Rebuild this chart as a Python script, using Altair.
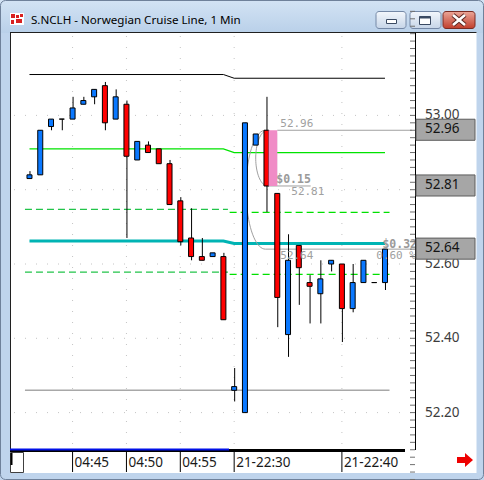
import altair as alt
import numpy as np
import pandas as pd

# ---- NCLH 1-minute bars: pre-market session and evening session ----
times = ["04:41", "04:42", "04:43", "04:44", "04:45", "04:46", "04:47", "04:48", "04:49", "04:50",
         "04:51", "04:52", "04:53", "04:54", "04:55", "04:56", "04:57", "04:58", "04:59",
         "22:30", "22:31", "22:32", "22:33", "22:34", "22:35", "22:36", "22:37", "22:38", "22:39",
         "22:40", "22:41", "22:42", "22:43", "22:44"]
opens = [52.83, 52.84, 52.97, 52.99, 52.99, 53.03, 53.05, 53.08, 52.99, 53.03,
         52.88, 52.92, 52.91, 52.87, 52.77, 52.67, 52.62, 52.62, 52.62,
         52.26, 52.20, 52.92, 52.96, 52.79, 52.41, 52.65, 52.55, 52.52, 52.60,
         52.60, 52.48, 52.55, 52.55, 52.55]
highs = [52.85, 52.96, 52.99, 52.99, 53.05, 53.05, 53.07, 53.09, 53.07, 53.04,
         52.93, 52.93, 52.91, 52.88, 52.78, 52.75, 52.67, 52.63, 52.63,
         52.32, 52.98, 52.95, 53.05, 52.79, 52.68, 52.65, 52.57, 52.61, 52.61,
         52.60, 52.60, 52.61, 52.55, 52.64]
lows = [52.83, 52.84, 52.96, 52.96, 52.99, 53.03, 53.03, 52.96, 52.99, 52.67,
        52.88, 52.90, 52.87, 52.76, 52.65, 52.61, 52.61, 52.62, 52.45,
        52.23, 52.20, 52.92, 52.74, 52.43, 52.35, 52.49, 52.44, 52.44, 52.58,
        52.39, 52.47, 52.55, 52.55, 52.53]
closes = [52.84, 52.96, 52.99, 52.99, 53.02, 53.04, 53.07, 52.98, 53.05, 52.89,
          52.93, 52.90, 52.87, 52.76, 52.66, 52.62, 52.61, 52.63, 52.45,
          52.27, 52.98, 52.95, 52.81, 52.51, 52.61, 52.59, 52.54, 52.56, 52.61,
          52.48, 52.55, 52.61, 52.55, 52.64]

# time axis
tick_times = ["04:45", "04:50", "04:55", "22:30", "22:40"]
tick_labels = ["04:45", "04:50", "04:55", "21-22:30", "21-22:40"]

# indicator levels per session (pre-market, evening)
upper_level = [53.11, 53.10]
green_level = [52.91, 52.90]
teal_level = [52.662, 52.655]
dash_hi_level = [52.747, 52.739]
dash_lo_level = [52.578, 52.572]
low_ref_level = 52.26

# measured move on the 22:33 bar
move_bar = "22:33"
move_high = 52.96
move_low = 52.81
last_price = 52.64

# price axis
price_labels = [53.00, 52.80, 52.60, 52.40, 52.20]
price_flags = [move_high, move_low, last_price]

# ---- scales ----
W, H = 484, 480
X0_PX, STEP_PX = 25, 11
x_scale = alt.Scale(domain=[-X0_PX / STEP_PX, (W - X0_PX) / STEP_PX], nice=False, zero=False)
y_scale = alt.Scale(domain=[52.0186, 53.3106], nice=False, zero=False)

BLUE, RED = "#0a78ff", "#ff0000"
GRAY_TXT = "#a0a0a0"
UI_FONT = "Noto Sans"
MONO = "DejaVu Sans Mono"


def xq(f):
    return alt.X(f"{f}:Q", scale=x_scale, axis=None)


def yq(f):
    return alt.Y(f"{f}:Q", scale=y_scale, axis=None)


one = pd.DataFrame({"k": [0]})


def px_rect(x, x2, y, y2, **mark):
    return alt.Chart(one).mark_rect(**mark).encode(
        x=alt.value(x), x2=alt.value(x2), y=alt.value(y), y2=alt.value(y2))


def px_rule(x, x2, y, y2, **mark):
    return alt.Chart(one).mark_rule(**mark).encode(
        x=alt.value(x), x2=alt.value(x2), y=alt.value(y), y2=alt.value(y2))


def px_text(txt, x, y, **mark):
    return alt.Chart(one).mark_text(text=txt, **mark).encode(x=alt.value(x), y=alt.value(y))


def grad(top, bottom):
    return alt.LinearGradient(gradient="linear", x1=0, x2=0, y1=0, y2=1,
                              stops=[alt.GradientStop(color=top, offset=0),
                                     alt.GradientStop(color=bottom, offset=1)])


bars = pd.DataFrame({"i": range(len(times)), "t": times, "o": opens, "h": highs,
                     "l": lows, "c": closes})
idx = {t: k for k, t in enumerate(times)}
sessions = [(0, idx["04:59"]), (idx["22:30"], len(times) - 1)]

layers = []

# ---- window frame ----
layers.append(px_rect(0, W, 0, H, color="#bfd4ec"))
layers.append(px_rect(0, W, 0, 33, color=grad("#d3e3f4", "#b9d0e9")))
layers.append(px_rect(0.5, W - 0.5, 0.5, H - 0.5, filled=False, stroke="#6f819a", strokeWidth=1,
                      cornerRadius=5))
# app icon
layers.append(px_rect(10, 24, 13, 25, color="#ffffff"))
for (a, b, c, d) in [(11, 15, 14, 18), (16, 19, 15, 18), (20, 23, 14, 17), (11, 14, 20, 24),
                     (16, 22, 19, 23)]:
    layers.append(px_rect(a, b, c, d, color="#d82020"))
layers.append(px_text("S.NCLH - Norwegian Cruise Line, 1 Min", 31, 20.5, align="left",
                      baseline="middle", font=UI_FONT, fontSize=11.6, color="#000000"))
# caption buttons
for (a, b) in [(376, 406), (410, 441)]:
    layers.append(px_rect(a, b, 11.5, 28.5, color=grad("#f3f7fc", "#c6d5e8"), stroke="#7488a6",
                          strokeWidth=1, cornerRadius=3))
layers.append(px_rect(443, 475, 11.5, 28.5, color=grad("#eba698", "#c13e2c"), stroke="#7a2b22",
                      strokeWidth=1, cornerRadius=3))
layers.append(px_rect(386.5, 396.5, 19.5, 23.5, color="#ffffff", stroke="#3a4a62", strokeWidth=1))
layers.append(px_rect(419.5, 430.5, 16.5, 24.5, color="#ffffff", stroke="#3a4a62", strokeWidth=1))
layers.append(px_rect(419.5, 430.5, 16.5, 18.5, color="#3a4a62"))
for w_, col in [(4.5, "#5a2620"), (2.6, "#ffffff")]:
    layers.append(px_rule(453, 465, 15, 25, color=col, strokeWidth=w_))
    layers.append(px_rule(453, 465, 25, 15, color=col, strokeWidth=w_))

# ---- chart panel ----
layers.append(px_rect(10, 476.5, 32, 473, color="#ffffff"))
layers.append(px_rule(10, 476.5, 32.5, 32.5, color="#202020"))
layers.append(px_rule(10.5, 10.5, 32, 450, color="#202020"))

# dotted grid
layers.append(alt.Chart(pd.DataFrame({"p": price_labels})).mark_rule(
    color="#c4c4c4", strokeDash=[1, 10]).encode(y=yq("p"), x=alt.value(14), x2=alt.value(414)))
tick_df = pd.DataFrame({"i": [idx[t] for t in tick_times], "lbl": tick_labels})
layers.append(alt.Chart(tick_df).mark_rule(color="#c4c4c4", strokeDash=[1, 10]).encode(
    x=xq("i"), y=alt.value(36), y2=alt.value(447)))


def step_line(levels):
    (a0, a1), (b0, b1) = sessions
    return pd.DataFrame({"i": [a0, a1, b0, b1],
                         "p": [levels[0], levels[0], levels[1], levels[1]]})


def session_segment(level, s, pad=0.42):
    a, b = sessions[s]
    return pd.DataFrame({"i": [a - pad, b + pad], "p": [level, level]})


# indicator lines
layers.append(alt.Chart(step_line(upper_level)).mark_line(color="#000000", strokeWidth=1).encode(
    x=xq("i"), y=yq("p")))
layers.append(alt.Chart(step_line(green_level)).mark_line(color="#00e400", strokeWidth=1.3).encode(
    x=xq("i"), y=yq("p")))
for lv in [dash_hi_level, dash_lo_level]:
    for s, col in enumerate(["#22c44a", "#00e000"]):
        layers.append(alt.Chart(session_segment(lv[s], s)).mark_line(
            color=col, strokeWidth=1.4, strokeDash=[7, 4]).encode(x=xq("i"), y=yq("p")))
layers.append(alt.Chart(step_line(teal_level)).mark_line(color="#00b4b4", strokeWidth=3).encode(
    x=xq("i"), y=yq("p")))
layers.append(alt.Chart(pd.DataFrame({"i": [sessions[0][0] - 0.42, sessions[1][1] + 0.42],
                                      "p": [low_ref_level, low_ref_level]})).mark_line(
    color="#a8a8a8", strokeWidth=1.5).encode(x=xq("i"), y=yq("p")))

# measurement drawing: brackets and guide lines
mi = idx[move_bar]
axis_i = (415.5 - X0_PX) / STEP_PX
t = np.linspace(np.pi / 2, 3 * np.pi / 2, 40)
loop = pd.DataFrame({"i": mi + 0.1 + 1.1 * np.cos(t),
                     "p": (move_high + move_low) / 2 + (move_high - move_low) / 2 * np.sin(t)})
loop = pd.concat([loop, pd.DataFrame({"i": [mi + 4.1], "p": [move_low]})])
bracket = pd.DataFrame({"i": mi - 0.1 + 1.8 * np.cos(t),
                        "p": (move_high + last_price) / 2 + (move_high - last_price) / 2 * np.sin(t)})
bracket = pd.concat([bracket, pd.DataFrame({"i": [axis_i], "p": [last_price]})])
for d in [loop, bracket]:
    d = d.reset_index(drop=True)
    d["o"] = range(len(d))
    layers.append(alt.Chart(d).mark_line(color="#a0a0a0", strokeWidth=1).encode(
        x=xq("i"), y=yq("p"), order="o:Q"))
layers.append(alt.Chart(pd.DataFrame({"i": [mi + 1, axis_i], "p": [move_high, move_high]})).mark_line(
    color="#a0a0a0", strokeWidth=1).encode(x=xq("i"), y=yq("p")))

# ---- candles ----
direction = alt.Color("dir:N", legend=None,
                      scale=alt.Scale(domain=["up", "down", "flat"], range=[BLUE, RED, "#000000"]))
base = alt.Chart(bars).transform_calculate(
    dir="datum.c > datum.o ? 'up' : (datum.c < datum.o ? 'down' : 'flat')")
layers.append(base.mark_rule(color="#000000", strokeWidth=1, xOffset=0.5).encode(
    x=xq("i"), y=yq("l"), y2=alt.Y2("h")))
layers.append(base.mark_bar(width=5, stroke="#000000", strokeWidth=1).encode(
    x=xq("i"), y=yq("o"), y2=alt.Y2("c"), color=direction))

# highlighted move box with shadow
move_df = pd.DataFrame({"i": [mi], "top": [move_high], "bot": [move_low]})
mv = alt.Chart(move_df).transform_calculate(a="datum.i + 0.2", b="datum.i + 1.0")
layers.append(mv.mark_rect(color="#b4b4b4", opacity=0.55, xOffset=3, yOffset=3).encode(
    x=xq("a"), x2=alt.X2("b"), y=yq("top"), y2=alt.Y2("bot")))
layers.append(mv.mark_rect(color="#f08cc6").encode(
    x=xq("a"), x2=alt.X2("b"), y=yq("top"), y2=alt.Y2("bot")))


def note(txt, p, dx, dy, bold=False, i=None, x_px=None, align="left"):
    d = pd.DataFrame({"i": [i if i is not None else 0], "p": [p], "t": [txt]})
    enc = dict(y=yq("p"), text="t:N")
    enc["x"] = alt.value(x_px) if x_px is not None else xq("i")
    return alt.Chart(d).mark_text(align=align, baseline="alphabetic", dx=dx, dy=dy, font=MONO,
                                  fontSize=11.5 if bold else 11, fontWeight="bold" if bold else "normal",
                                  color="#9a9a9a" if bold else GRAY_TXT).encode(**enc)


move_size = move_high - move_low
drop_size = move_high - last_price
layers.append(note(f"{move_high:.2f}", move_high, 3, -3, i=mi + 1))
layers.append(note(f"${move_size:.2f}", move_low, -1, -2.5, bold=True, i=mi + 1))
layers.append(note(f"{move_low:.2f}", move_low, 14, 9, i=mi + 1))
layers.append(note(f"{last_price:.2f}", last_price, 3, 10, i=mi + 1))
layers.append(note(f"${drop_size:.2f}", last_price, 0, -1.5, bold=True, x_px=417, align="right"))
layers.append(note(f"{drop_size / move_high * 100:.2f} %", last_price, 0, 10, x_px=416, align="right"))

# ---- price axis ----
layers.append(px_rule(415.5, 415.5, 33, 450, color="#000000"))
minor = pd.DataFrame({"p": np.round(np.arange(52.02, 53.30, 0.02), 2)})
layers.append(alt.Chart(minor).mark_rule(color="#707070").encode(
    y=yq("p"), x=alt.value(410), x2=alt.value(415)))
layers.append(alt.Chart(pd.DataFrame({"p": price_labels})).transform_calculate(
    lbl="format(datum.p, '.2f')").mark_text(
    align="left", baseline="middle", font=UI_FONT, fontSize=13.5, color="#3c3c3c").encode(
    x=alt.value(425), y=yq("p"), text="lbl:N"))
flags = alt.Chart(pd.DataFrame({"p": price_flags})).transform_calculate(
    top="datum.p + 0.027", bot="datum.p - 0.027", lbl="format(datum.p, '.2f')")
layers.append(flags.mark_rect(color="#a6a6a6", stroke="#5c5c5c", strokeWidth=1, yOffset=-1).encode(
    x=alt.value(416), x2=alt.value(475), y=yq("top"), y2=alt.Y2("bot")))
layers.append(flags.mark_text(align="left", baseline="middle", font=UI_FONT, fontSize=13.5,
                              color="#141414", dy=-1).encode(
    x=alt.value(425), y=yq("p"), text="lbl:N"))

# ---- time axis ----
layers.append(px_rect(10, 405, 449, 452, color="#000000"))
layers.append(px_rect(10, 229, 448.6, 450.4, color="#0010e8"))
layers.append(alt.Chart(tick_df).mark_rule(color="#000000").encode(
    x=xq("i"), y=alt.value(452), y2=alt.value(472)))
layers.append(alt.Chart(tick_df).mark_text(align="left", baseline="middle", dx=2, font=UI_FONT,
                                           fontSize=13.5, color="#1a1a1a").encode(
    x=xq("i"), y=alt.value(463), text="lbl:N"))
layers.append(px_rect(10.5, 23.5, 452.5, 472.5, color="#ffffff", stroke="#404040", strokeWidth=1))
layers.append(px_rule(11.5, 11.5, 453, 465, color="#000000", strokeWidth=2))
arrow = "M-1,-0.375 L0,-0.375 L0,-0.875 L1,0 L0,0.875 L0,0.375 L-1,0.375 Z"
layers.append(alt.Chart(one).mark_point(shape=arrow, filled=True, color="#ee0000", opacity=1,
                                        size=256, strokeWidth=0).encode(
    x=alt.value(465), y=alt.value(460)))

chart = alt.layer(*layers).properties(
    width=W, height=H, padding=0, autosize=alt.AutoSizeParams(type="none"),
    background="#bfd4ec").configure_view(stroke=None)

chart.save("out.html", embed_options={"renderer": "svg", "actions": False})
